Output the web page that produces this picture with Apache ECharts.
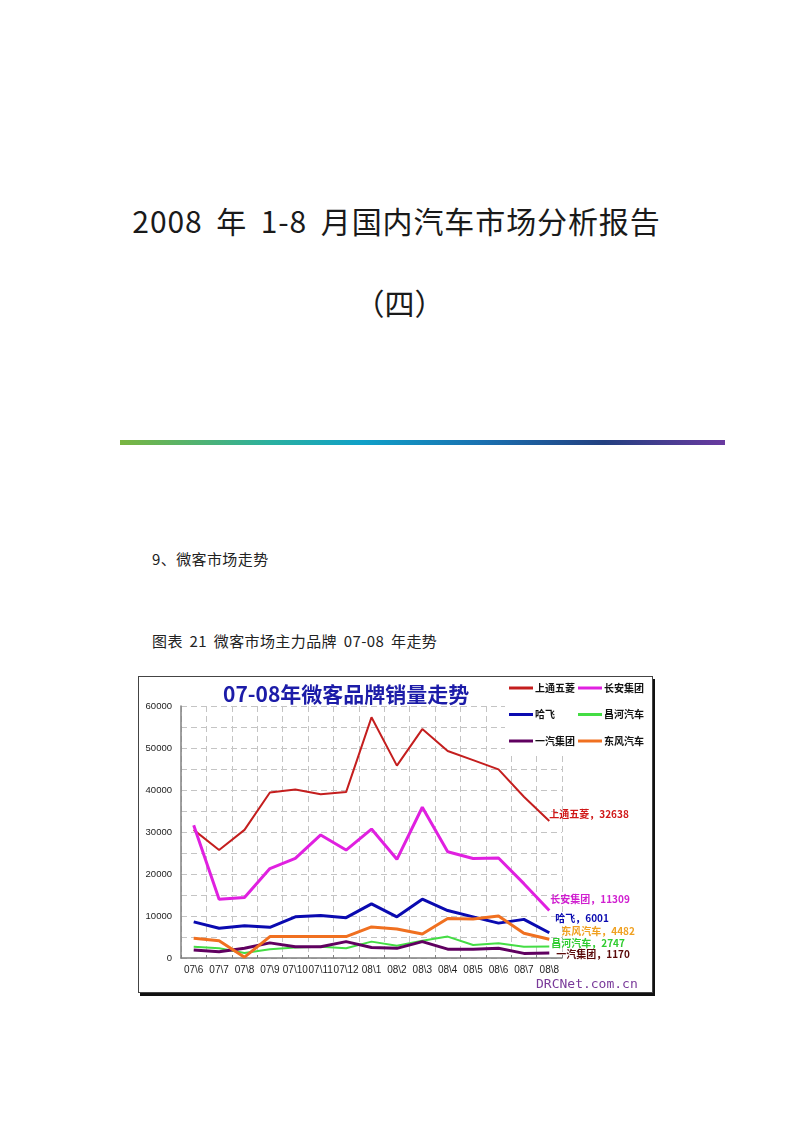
<!DOCTYPE html>
<html>
<head>
<meta charset="utf-8">
<title>微客市场走势</title>
<script src="https://cdn.jsdelivr.net/npm/echarts@6/dist/echarts.min.js"></script>
<style>
  * { margin: 0; padding: 0 }
  html, body { width: 793px; height: 1122px; background: #fff; overflow: hidden; }
  body { position: relative; font-family: "Noto Sans CJK SC", sans-serif; color: #1a1a1a; }
  .t { position: absolute; left: 0; width: 793px; text-align: center; }
  #h1 { top: 203px; font-size: 30px; line-height: 34px; word-spacing: 6px; letter-spacing: 0.9px; }
  #h2 { top: 285px; font-size: 30px; line-height: 34px; left: 3px; }
  #bar {
    position: absolute; left: 120px; top: 440px; width: 605px; height: 5px;
    background: linear-gradient(to right, #7ab540 0%, #2ab0a0 25%, #10a0c8 40%, #1a70b0 60%, #234080 80%, #6a3aa0 100%);
  }
  .p { position: absolute; left: 152px; font-size: 15px; line-height: 18px; letter-spacing: 0.4px; word-spacing: 3px; color: #222; }
  #sec { top: 550px; }
  #cap { top: 632px; }
  #main {
    position: absolute; left: 138px; top: 676px; width: 513px; height: 315px;
    border: 1px solid #444; box-shadow: 2px 3px 0 #111;
  }
</style>
</head>
<body>
<div id="h1" class="t">2008 年 1-8 月国内汽车市场分析报告</div>
<div id="h2" class="t">（四）</div>
<div id="bar"></div>
<div id="sec" class="p">9、微客市场走势</div>
<div id="cap" class="p">图表 21 微客市场主力品牌 07-08 年走势</div>
<div id="main"></div>
<script>
// 月份
var months = ['07\\6', '07\\7', '07\\8', '07\\9', '07\\10', '07\\11', '07\\12',
  '08\\1', '08\\2', '08\\3', '08\\4', '08\\5', '08\\6', '08\\7', '08\\8'];
// 各品牌月销量
var wuling   = [30500, 25700, 30500, 39400, 40100, 39000, 39500, 57300, 45800, 54500, 49300, 47100, 44900, 38400, 32638];
var changan  = [31600, 14000, 14400, 21300, 23700, 29300, 25700, 30700, 23500, 35900, 25300, 23700, 23800, 17700, 11309];
var hafei    = [8600, 7100, 7700, 7300, 9800, 10100, 9600, 12900, 9800, 14000, 11300, 9800, 8300, 9200, 6001];
var changhe  = [2700, 2300, 1200, 2100, 2500, 2700, 2300, 3900, 2900, 4100, 5100, 3100, 3500, 2700, 2747];
var faw      = [1900, 1500, 2300, 3600, 2700, 2700, 3900, 2500, 2300, 3900, 2100, 2100, 2300, 1100, 1170];
var dongfeng = [4700, 4100, 200, 5100, 5100, 5100, 5100, 7400, 6900, 5700, 9400, 9300, 10000, 5900, 4482];

var chart = echarts.init(document.getElementById('main'));

function line(name, data, color, width, labelColor, offset) {
  return {
    name: name,
    type: 'line',
    data: data,
    symbol: 'none',
    lineStyle: { color: color, width: width },
    itemStyle: { color: color },
    endLabel: {
      show: true,
      formatter: name + '，' + data[data.length - 1],
      color: labelColor,
      fontSize: 10,
      fontWeight: 'bold',
      fontFamily: 'Noto Sans CJK SC',
      distance: 0,
      offset: offset
    }
  };
}

var legendText = { fontSize: 10, fontWeight: 'bold', color: '#111', fontFamily: 'Noto Sans CJK SC', padding: [0, 0, 0, -3] };

chart.setOption({
  animation: false,
  backgroundColor: '#fff',
  title: {
    text: '07-08年微客品牌销量走势',
    left: 79,
    top: 2,
    textStyle: { color: '#1c1ca8', fontSize: 21, fontWeight: 'bold', fontFamily: 'Noto Sans CJK SC' }
  },
  legend: [{
    orient: 'vertical',
    left: 366,
    top: 4,
    icon: 'rect',
    itemWidth: 24,
    itemHeight: 3,
    itemGap: 16.5,
    padding: [2, 2, 8, 4],
    backgroundColor: '#fff',
    textStyle: legendText,
    data: ['上通五菱', '哈飞', '一汽集团']
  }, {
    orient: 'vertical',
    left: 437,
    top: 4,
    icon: 'rect',
    itemWidth: 24,
    itemHeight: 3,
    itemGap: 16.5,
    padding: [2, 20, 8, 2],
    backgroundColor: '#fff',
    textStyle: legendText,
    data: ['长安集团', '昌河汽车', '东风汽车']
  }],
  grid: { left: 42, top: 29, right: 90, bottom: 34, containLabel: false },
  xAxis: {
    type: 'category',
    data: months,
    boundaryGap: true,
    axisLine: { lineStyle: { color: '#808080', width: 1.5 } },
    axisTick: { show: true, inside: true, length: 3, lineStyle: { color: '#808080' } },
    axisLabel: { interval: 0, fontSize: 10, color: '#222', margin: 7, fontFamily: 'Liberation Sans' },
    splitLine: { show: true, lineStyle: { color: '#c4c4c4', type: [6, 4], width: 1 } }
  },
  yAxis: {
    type: 'value',
    min: 0,
    max: 60000,
    interval: 5000,
    axisLine: { show: true, lineStyle: { color: '#808080', width: 1.5 } },
    axisTick: { show: false },
    axisLabel: {
      fontSize: 9.5, color: '#222', margin: 9, fontFamily: 'Liberation Sans',
      formatter: function (v) { return v % 10000 === 0 ? v : ''; }
    },
    splitLine: { show: true, lineStyle: { color: '#c4c4c4', type: [6, 4], width: 1 } }
  },
  series: [
    line('上通五菱', wuling, '#c41e1e', 2, '#d01818', [0, -7]),
    line('长安集团', changan, '#e020e0', 3, '#d020d0', [1, -11]),
    line('哈飞', hafei, '#0a0ab0', 3, '#0a0ab0', [6, -15]),
    line('昌河汽车', changhe, '#44dd44', 2, '#30cc30', [2, -3]),
    line('一汽集团', faw, '#600060', 3, '#5a0a0a', [7, 1]),
    line('东风汽车', dongfeng, '#f07020', 3, '#f0a020', [12, -8])
  ],
  graphic: [{
    type: 'text',
    left: 397,
    top: 301,
    style: { text: 'DRCNet.com.cn', fill: '#7a3a9a', font: '13px "DejaVu Sans Mono"' }
  }]
});
</script>
</body>
</html>
